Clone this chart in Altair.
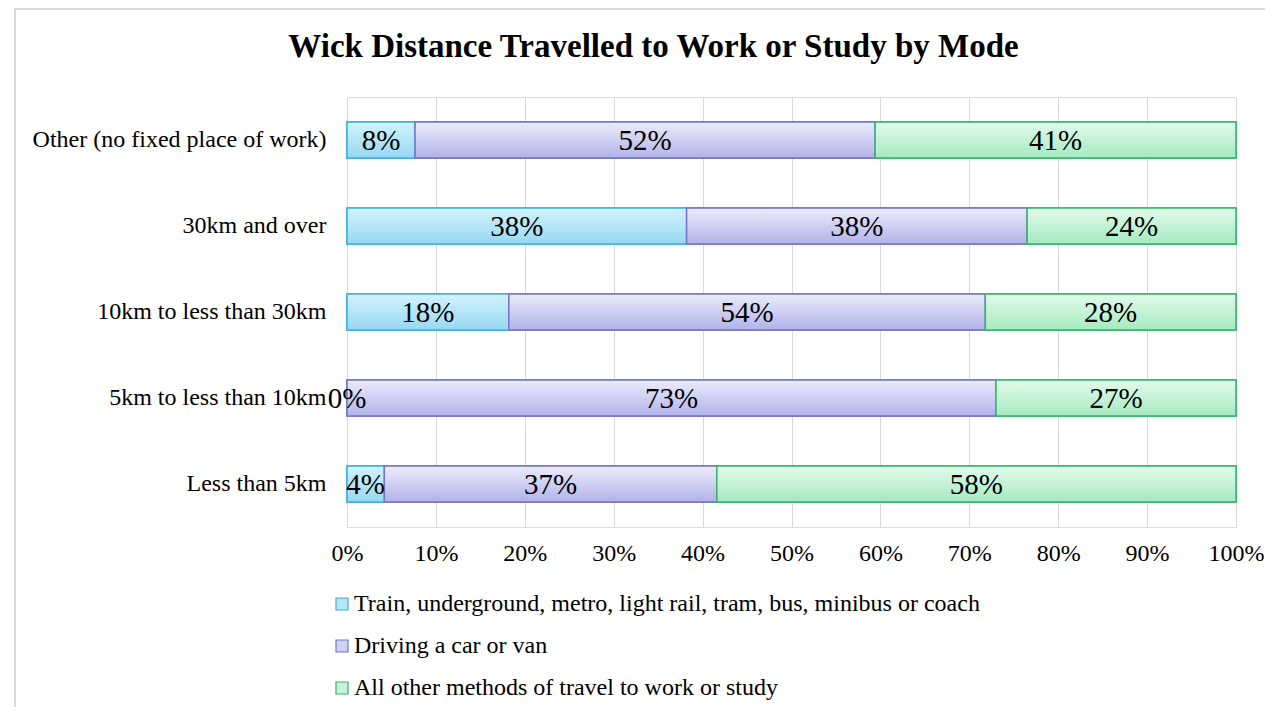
import altair as alt
import pandas as pd

categories = [
    "Other (no fixed place of work)",
    "30km and over",
    "10km to less than 30km",
    "5km to less than 10km",
    "Less than 5km",
]
series = [
    "Train, underground, metro, light rail, tram, bus, minibus or coach",
    "Driving a car or van",
    "All other methods of travel to work or study",
]
train = [7.65, 38.2, 18.2, 0.0, 4.2]
driving = [51.75, 38.3, 53.6, 73.0, 37.4]
other = [40.6, 23.5, 28.2, 27.0, 58.4]

solid_colors = ["#b4e6f8", "#d0d0f2", "#c6f2d6"]
border_colors = ["#3cb0dc", "#7474c4", "#33b56c"]
grad_tops = ["#d2f3fd", "#ececfb", "#e2fbeb"]
grad_bottoms = ["#98d8f2", "#b2b2ea", "#a6eac0"]

rows = []
for si, (s, vals) in enumerate(zip(series, [train, driving, other])):
    for c, v in zip(categories, vals):
        rows.append({"cat": c, "series": s, "order": si, "value": v})
df = pd.DataFrame(rows)

FONT = "Liberation Serif"
W, H = 889, 430

base = alt.Chart(df).transform_stack(
    stack="value", groupby=["cat"], as_=["x0", "x1"],
    sort=[alt.SortField("order", order="ascending")], offset="normalize",
).transform_calculate(
    mid="(datum.x0 + datum.x1) / 2",
    label="round(datum.value) + '%'",
)

yenc = alt.Y("cat:N", sort=categories, title=None,
             scale=alt.Scale(paddingInner=0.58, paddingOuter=0.29),
             axis=alt.Axis(ticks=False, domain=False, labelFont=FONT, labelFontSize=24,
                           labelColor="#000000", labelPadding=21, labelLimit=400))
xenc = alt.X("x0:Q", title=None,
             scale=alt.Scale(domain=[0, 1], nice=False),
             axis=alt.Axis(format=".0%", values=[i / 10 for i in range(11)], ticks=False,
                           domain=False, grid=True, gridColor="#d9d9d9", labelFont=FONT,
                           labelFontSize=24, labelColor="#000000", labelPadding=14,
                           labelFlush=False, labelOverlap=False))

legend_layer = base.mark_bar(strokeWidth=1.5).encode(
    x=xenc, x2="x1:Q", y=yenc,
    fill=alt.Fill("series:N", sort=series, title=None,
                  scale=alt.Scale(domain=series, range=solid_colors),
                  legend=alt.Legend(orient="none", legendX=-17, legendY=495, direction="vertical",
                                    symbolType="square", symbolSize=144, symbolStrokeWidth=1.2,
                                    labelFont=FONT, labelFontSize=24, labelColor="#000000",
                                    rowPadding=18, labelOffset=0, labelLimit=800, padding=0)),
    stroke=alt.Stroke("series:N", sort=series, title=None,
                      scale=alt.Scale(domain=series, range=border_colors)),
)

grad_layers = []
for i, s in enumerate(series):
    g = alt.Gradient(gradient="linear", x1=0, x2=0, y1=0, y2=1,
                     stops=[alt.GradientStop(color=grad_tops[i], offset=0),
                            alt.GradientStop(color=grad_bottoms[i], offset=1)])
    grad_layers.append(
        base.transform_filter(alt.datum.series == s).mark_bar(
            fill=g, stroke=border_colors[i], strokeWidth=1.5
        ).encode(x="x0:Q", x2="x1:Q", y=alt.Y("cat:N", sort=categories))
    )

labels = base.mark_text(font=FONT, fontSize=29, color="#000000", baseline="middle", dy=1).encode(
    x="mid:Q", y=alt.Y("cat:N", sort=categories), text="label:N"
)

frame = alt.Chart(pd.DataFrame({"a": [0]})).mark_rect(
    fill=None, stroke="#d9d9d9", strokeWidth=2
).encode(x=alt.value(-332), x2=alt.value(W + 200), y=alt.value(-88), y2=alt.value(H + 300))

chart = alt.layer(frame, legend_layer, *grad_layers, labels).properties(
    width=W, height=H,
    title=alt.TitleParams("Wick Distance Travelled to Work or Study by Mode", font=FONT,
                          fontSize=33, fontWeight="bold", color="#000000", anchor="middle",
                          dx=-138, offset=0, dy=56),
    autosize=alt.AutoSizeParams(type="none"),
    padding={"left": 339, "top": 89, "right": 29, "bottom": 180},
).configure_view(stroke=None).configure(background="white")

chart.save("out.html", embed_options={"renderer": "svg", "actions": False})
